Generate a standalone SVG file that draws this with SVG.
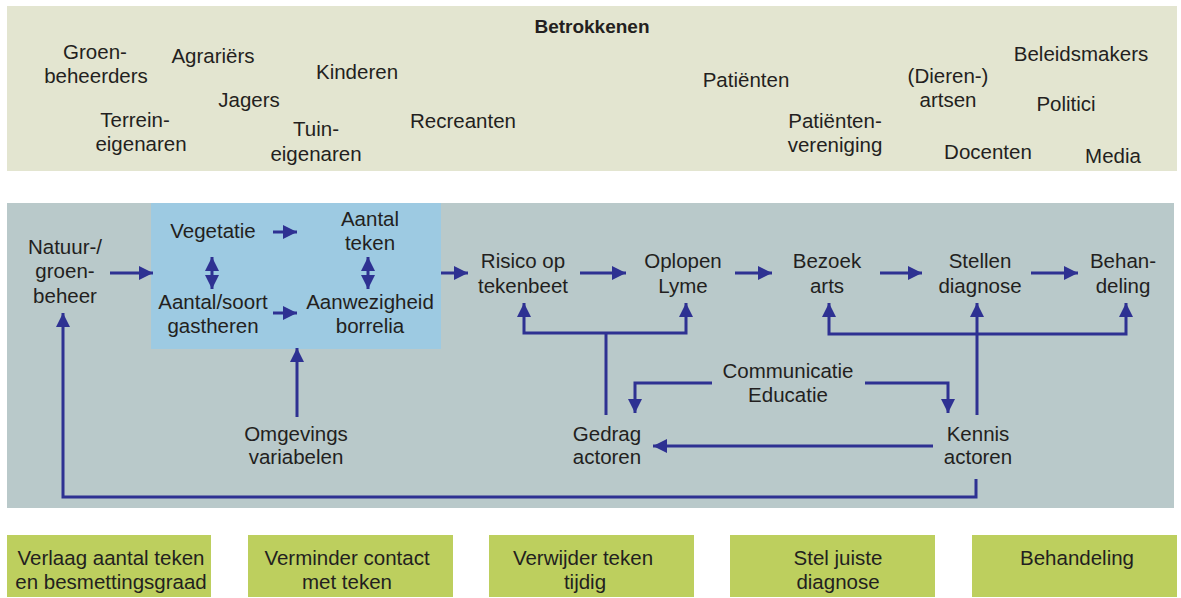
<svg xmlns="http://www.w3.org/2000/svg" width="1181" height="598" viewBox="0 0 1181 598">
<defs>
<style>
text{font-family:"Liberation Sans",Arial,sans-serif;font-size:20.5px;fill:#231f20;text-anchor:middle}
.b{font-weight:bold;font-size:19px}
.c{fill:none;stroke:#2e3192;stroke-width:3}
.g{fill:#bdcf5e}
</style>
<marker id="ah" viewBox="0 0 14 14" refX="14" refY="7" markerWidth="14" markerHeight="14" markerUnits="userSpaceOnUse" orient="auto-start-reverse"><path d="M0,0 L14,7 L0,14 z" fill="#2e3192"/></marker>
</defs>
<rect width="1181" height="598" fill="#fff"/>
<g id="betrokkenen">
<rect x="7" y="6" width="1170" height="165" fill="#e3e5d0"/>
<text class="b" x="592" y="33">Betrokkenen</text>
<text x="95" y="59">Groen-</text><text x="96" y="83">beheerders</text>
<text x="213" y="63">Agrariërs</text>
<text x="357" y="79">Kinderen</text>
<text x="249" y="107">Jagers</text>
<text x="135" y="127">Terrein-</text><text x="141" y="151">eigenaren</text>
<text x="316" y="136">Tuin-</text><text x="316" y="161">eigenaren</text>
<text x="463" y="128">Recreanten</text>
<text x="746" y="87">Patiënten</text>
<text x="835" y="128">Patiënten-</text><text x="835" y="152">vereniging</text>
<text x="948" y="83">(Dieren-)</text><text x="948" y="107">artsen</text>
<text x="1081" y="61">Beleidsmakers</text>
<text x="1066" y="111">Politici</text>
<text x="988" y="159">Docenten</text>
<text x="1113" y="163">Media</text>
</g>
<rect id="panel" x="7" y="203" width="1167" height="305" fill="#b9c9ca"/>
<rect id="blok" x="151" y="203" width="290" height="146" fill="#9dcae2"/>
<g id="connectors" class="c">
<path class="c" d="M110,273 H153" marker-end="url(#ah)"/>
<path class="c" d="M273,232 H297" marker-end="url(#ah)"/>
<path class="c" d="M273,313 H297" marker-end="url(#ah)"/>
<path class="c" d="M212,257 V289" marker-start="url(#ah)" marker-end="url(#ah)"/>
<path class="c" d="M368,257 V289" marker-start="url(#ah)" marker-end="url(#ah)"/>
<path class="c" d="M441,273 H468" marker-end="url(#ah)"/>
<path class="c" d="M580,273 H626" marker-end="url(#ah)"/>
<path class="c" d="M735,273 H772" marker-end="url(#ah)"/>
<path class="c" d="M880,273 H922" marker-end="url(#ah)"/>
<path class="c" d="M1031,273 H1078" marker-end="url(#ah)"/>
<path class="c" d="M524,303 V333 H686 V303" marker-start="url(#ah)" marker-end="url(#ah)"/>
<path class="c" d="M606,415 V333"/>
<path class="c" d="M829,303 V334 H1126 V303" marker-start="url(#ah)" marker-end="url(#ah)"/>
<path class="c" d="M977,415 V303" marker-end="url(#ah)"/>
<path class="c" d="M712,383 H635 V413" marker-end="url(#ah)"/>
<path class="c" d="M865,383 H948 V413" marker-end="url(#ah)"/>
<path class="c" d="M933,446 H653" marker-end="url(#ah)"/>
<path class="c" d="M297,417 V348" marker-end="url(#ah)"/>
<path class="c" d="M976,479 V497 H63 V313" marker-end="url(#ah)"/>
</g>
<g id="natuur"><text x="65" y="254">Natuur-/</text><text x="65" y="278">groen-</text><text x="65" y="303">beheer</text></g>
<g id="vegetatie"><text x="213" y="238">Vegetatie</text></g>
<g id="aantalteken"><text x="370" y="226">Aantal</text><text x="370" y="250">teken</text></g>
<g id="gastheren"><text x="213" y="309">Aantal/soort</text><text x="213" y="333">gastheren</text></g>
<g id="borrelia"><text x="370" y="309">Aanwezigheid</text><text x="370" y="333">borrelia</text></g>
<g id="risico"><text x="523" y="268">Risico op</text><text x="523" y="293">tekenbeet</text></g>
<g id="oplopen"><text x="683" y="268">Oplopen</text><text x="683" y="293">Lyme</text></g>
<g id="bezoek"><text x="827" y="268">Bezoek</text><text x="827" y="293">arts</text></g>
<g id="stellen"><text x="980" y="268">Stellen</text><text x="980" y="293">diagnose</text></g>
<g id="behandeling"><text x="1123" y="268">Behan-</text><text x="1123" y="293">deling</text></g>
<g id="communicatie"><text x="788" y="378">Communicatie</text><text x="788" y="402">Educatie</text></g>
<g id="gedrag"><text x="607" y="441">Gedrag</text><text x="607" y="464">actoren</text></g>
<g id="kennis"><text x="978" y="441">Kennis</text><text x="978" y="464">actoren</text></g>
<g id="omgevings"><text x="296" y="441">Omgevings</text><text x="296" y="464">variabelen</text></g>
<g id="m1"><rect class="g" x="7" y="535" width="204" height="62"/><text x="111" y="565">Verlaag aantal teken</text><text x="111" y="589">en besmettingsgraad</text></g>
<g id="m2"><rect class="g" x="248" y="535" width="205" height="62"/><text x="347" y="565">Verminder contact</text><text x="347" y="589">met teken</text></g>
<g id="m3"><rect class="g" x="489" y="535" width="205" height="62"/><text x="583" y="565">Verwijder teken</text><text x="585" y="589">tijdig</text></g>
<g id="m4"><rect class="g" x="730" y="535" width="205" height="62"/><text x="838" y="565">Stel juiste</text><text x="838" y="589">diagnose</text></g>
<g id="m5"><rect class="g" x="972" y="535" width="205" height="62"/><text x="1077" y="565">Behandeling</text></g>
</svg>
